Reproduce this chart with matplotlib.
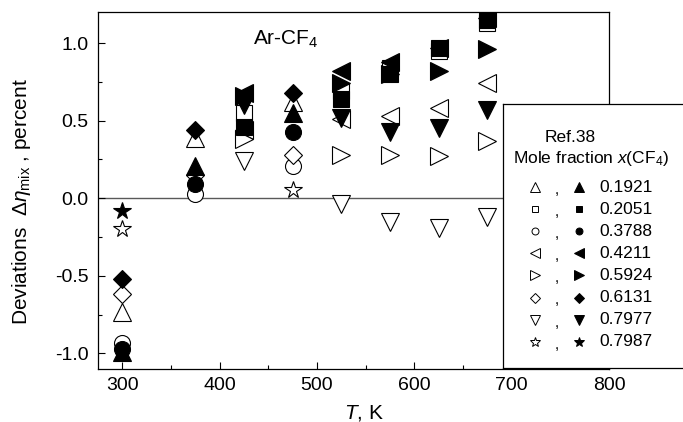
import matplotlib
matplotlib.use("Agg")
import matplotlib.pyplot as plt
from matplotlib.ticker import MultipleLocator, FormatStrFormatter

plt.rcParams["font.family"] = ["Liberation Sans", "DejaVu Sans"]
plt.rcParams["mathtext.fontset"] = "custom"
plt.rcParams["mathtext.rm"] = "Liberation Sans"
plt.rcParams["mathtext.it"] = "Liberation Sans:italic"
plt.rcParams["mathtext.bf"] = "Liberation Sans:bold"

# Mole fractions of CF4 and their plotting symbols
fractions = ["0.1921", "0.2051", "0.3788", "0.4211", "0.5924", "0.6131", "0.7977", "0.7987"]
symbols = ["^", "s", "o", "<", ">", "D", "v", "*"]
sizes = [12.5, 11, 11.5, 12.5, 12.5, 9, 12.5, 13]

# Open symbols: temperatures (K) and deviations (percent)
t_open_1921 = [300, 375, 475]
d_open_1921 = [-0.73, 0.39, 0.62]
t_open_2051 = [425, 525, 575, 625, 675]
d_open_2051 = [0.55, 0.69, 0.84, 0.95, 1.13]
t_open_3788 = [300, 375, 475]
d_open_3788 = [-0.93, 0.03, 0.21]
t_open_4211 = [425, 525, 575, 625, 675]
d_open_4211 = [0.44, 0.51, 0.53, 0.58, 0.74]
t_open_5924 = [425, 525, 575, 625, 675]
d_open_5924 = [0.38, 0.28, 0.28, 0.27, 0.37]
t_open_6131 = [300, 375, 475]
d_open_6131 = [-0.62, 0.15, 0.28]
t_open_7977 = [425, 525, 575, 625, 675]
d_open_7977 = [0.24, -0.04, -0.15, -0.19, -0.12]
t_open_7987 = [300, 475]
d_open_7987 = [-0.20, 0.05]

# Filled symbols: temperatures (K) and deviations (percent)
t_fill_1921 = [300, 375, 475]
d_fill_1921 = [-0.99, 0.21, 0.55]
t_fill_2051 = [425, 525, 575, 625, 675]
d_fill_2051 = [0.46, 0.64, 0.80, 0.97, 1.15]
t_fill_3788 = [300, 375, 475]
d_fill_3788 = [-0.97, 0.09, 0.43]
t_fill_4211 = [425, 525, 575, 625, 675]
d_fill_4211 = [0.68, 0.82, 0.88, 0.97, 1.16]
t_fill_5924 = [425, 525, 575, 625, 675]
d_fill_5924 = [0.66, 0.74, 0.80, 0.82, 0.96]
t_fill_6131 = [300, 375, 475]
d_fill_6131 = [-0.52, 0.44, 0.68]
t_fill_7977 = [425, 525, 575, 625, 675]
d_fill_7977 = [0.60, 0.52, 0.43, 0.45, 0.57]
t_fill_7987 = [300]
d_fill_7987 = [-0.08]

open_sets = [
    (t_open_1921, d_open_1921), (t_open_2051, d_open_2051),
    (t_open_3788, d_open_3788), (t_open_4211, d_open_4211),
    (t_open_5924, d_open_5924), (t_open_6131, d_open_6131),
    (t_open_7977, d_open_7977), (t_open_7987, d_open_7987),
]
fill_sets = [
    (t_fill_1921, d_fill_1921), (t_fill_2051, d_fill_2051),
    (t_fill_3788, d_fill_3788), (t_fill_4211, d_fill_4211),
    (t_fill_5924, d_fill_5924), (t_fill_6131, d_fill_6131),
    (t_fill_7977, d_fill_7977), (t_fill_7987, d_fill_7987),
]

W, H = 683, 422
fig = plt.figure(figsize=(W / 100, H / 100), dpi=100)
ax = fig.add_axes([98 / W, 1 - 369 / H, (609 - 98) / W, (369 - 12) / H])

ax.axhline(0, color="0.35", lw=1.0, zorder=1)

for (t, d), m, s in zip(open_sets, symbols, sizes):
    ax.plot(t, d, linestyle="none", marker=m, ms=s, mfc="white",
            mec="black", mew=0.8, zorder=3)
for (t, d), m, s in zip(fill_sets, symbols, sizes):
    ax.plot(t, d, linestyle="none", marker=m, ms=s, mfc="black",
            mec="black", mew=0.8, zorder=4)

ax.set_xlim(275, 800)
ax.set_ylim(-1.1, 1.2)
ax.xaxis.set_major_locator(MultipleLocator(100))
ax.xaxis.set_minor_locator(MultipleLocator(50))
ax.yaxis.set_major_locator(MultipleLocator(0.5))
ax.yaxis.set_minor_locator(MultipleLocator(0.25))
ax.yaxis.set_major_formatter(FormatStrFormatter("%.1f"))
ax.tick_params(which="both", direction="in", top=False, right=False,
               labelsize=14, width=0.8)
ax.tick_params(axis="x", which="both", pad=6)
ax.tick_params(axis="y", which="both", pad=7)
ax.tick_params(which="major", length=5)
ax.tick_params(which="minor", length=3)
for sp in ax.spines.values():
    sp.set_linewidth(0.9)

ax.set_xlabel(r"$\mathit{T}$, K", fontsize=15)
ax.xaxis.set_label_coords(0.52, -0.094)
ax.set_ylabel(r"Deviations  $\mathit{\Delta\eta}_{\mathrm{mix}}$ , percent", fontsize=15)
ax.yaxis.set_label_coords(-0.127, 0.468)

ax.text(0.303, 0.9076, r"Ar-CF$_4$", transform=ax.transAxes, fontsize=15,
        ha="left", va="baseline")

# Symbol key box, laid out in pixel units
lax = fig.add_axes([503 / W, 1 - 368 / H, (720 - 503) / W, (368 - 104) / H])
lax.set_xlim(503, 720)
lax.set_ylim(368, 104)
lax.set_xticks([])
lax.set_yticks([])
for sp in lax.spines.values():
    sp.set_linewidth(0.9)
lax.set_facecolor("white")
lax.text(570, 137, "Ref.38", fontsize=12.5, ha="center", va="center")
lax.text(513, 159, r"Mole fraction $\mathit{x}$(CF$_4$)", fontsize=12.5,
         ha="left", va="center")
key_sizes = [7, 5, 5, 7, 7, 5, 7, 7.5]
for i, (m, s, f) in enumerate(zip(symbols, key_sizes, fractions)):
    y = 187 + i * 22.1
    lax.plot([535], [y], marker=m, ms=s, mfc="white", mec="black", mew=0.7)
    lax.text(557, y + 3, ",", fontsize=11, ha="center", va="center")
    lax.plot([579], [y], marker=m, ms=s, mfc="black", mec="black", mew=0.7)
    lax.text(599, y, f, fontsize=12.5, ha="left", va="center")

fig.savefig("out.png", dpi=100)
